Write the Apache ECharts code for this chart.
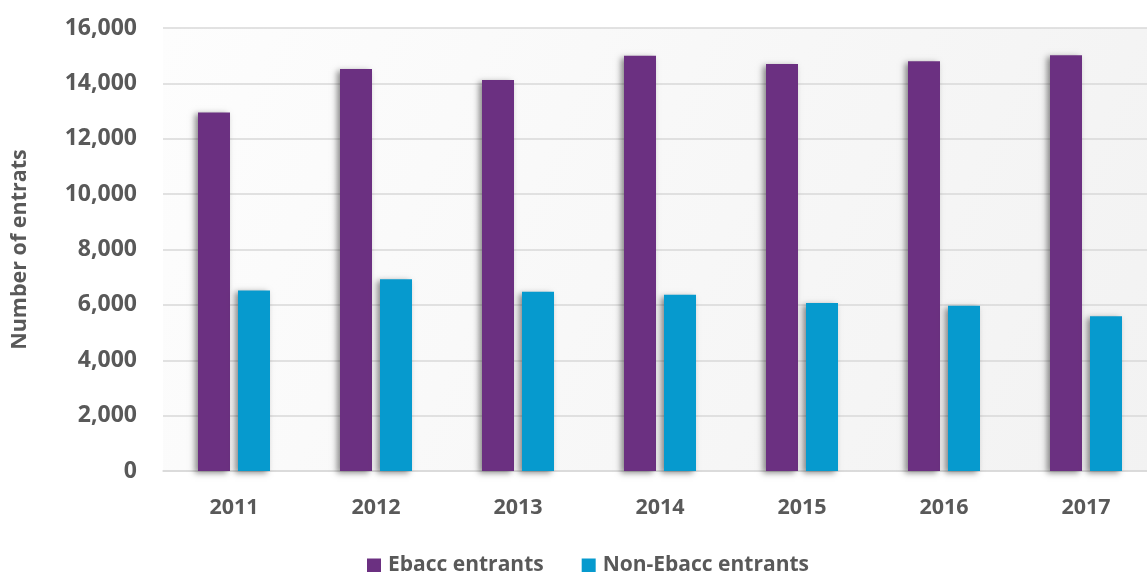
<!DOCTYPE html>
<html>
<head>
<meta charset="utf-8">
<script src="https://cdn.jsdelivr.net/npm/echarts@6/dist/echarts.min.js"></script>
<style>
html,body{margin:0;padding:0;background:#fff;overflow:hidden;width:1147px;height:572px;}
#c{width:1157px;height:572px;}
</style>
</head>
<body>
<div id="c"></div>
<script>
const categories = ['2011','2012','2013','2014','2015','2016','2017'];
const ebacc = [12950, 14520, 14120, 15000, 14700, 14800, 15020];
const nonEbacc = [6520, 6930, 6470, 6370, 6070, 5970, 5590];
const seriesNames = ['Ebacc entrants', 'Non-Ebacc entrants'];
const yAxisTitle = 'Number of entrats';

const FONT = '"Open Sans", sans-serif';
const TXT = '#595959';
const chart = echarts.init(document.getElementById('c'), null, {renderer:'canvas'});
const shadow = {shadowBlur: 6, shadowColor: 'rgba(0,0,0,0.45)', shadowOffsetX: -3, shadowOffsetY: 2};
chart.setOption({
  animation: false,
  backgroundColor: '#ffffff',
  grid: {
    left: 163, right: 0, top: 28, bottom: 101,
    show: true, borderWidth: 0,
    backgroundColor: {type:'linear', x:0, y:0, x2:1, y2:1,
      colorStops:[{offset:0,color:'#fdfdfd'},{offset:1,color:'#f2f2f2'}]}
  },
  legend: {
    top: 550, left: 362,
    itemWidth: 14, itemHeight: 14, itemGap: 38,
    icon: 'rect',
    textStyle: {color: TXT, fontFamily: FONT, fontWeight: 'bold', fontSize: 21, padding:[0,0,0,2]},
    data: seriesNames
  },
  xAxis: {
    type: 'category', data: categories,
    axisLine: {show: true, lineStyle: {color: '#d9d9d9', width: 1.5}},
    axisTick: {show: false},
    axisLabel: {color: TXT, fontFamily: FONT, fontWeight: 'bold', fontSize: 21.5, margin: 26}
  },
  yAxis: {
    type: 'value', min: 0, max: 16000, interval: 2000,
    name: yAxisTitle, nameLocation: 'middle', nameGap: 132,
    nameTextStyle: {color: TXT, fontFamily: FONT, fontWeight: 'bold', fontSize: 21.5},
    axisLine: {show: false}, axisTick: {show: false},
    splitLine: {lineStyle: {color: '#d9d9d9', width: 1.5}},
    axisLabel: {color: TXT, fontFamily: FONT, fontWeight: 'bold', fontSize: 23, margin: 26,
      formatter: v => v.toLocaleString('en-US')}
  },
  series: [
    {name: seriesNames[0], type: 'bar', data: ebacc, barWidth: 32, barGap: '25%',
     itemStyle: Object.assign({color: '#6b3081'}, shadow)},
    {name: seriesNames[1], type: 'bar', data: nonEbacc, barWidth: 32,
     itemStyle: Object.assign({color: '#069ace'}, shadow)}
  ]
});
</script>
</body>
</html>
